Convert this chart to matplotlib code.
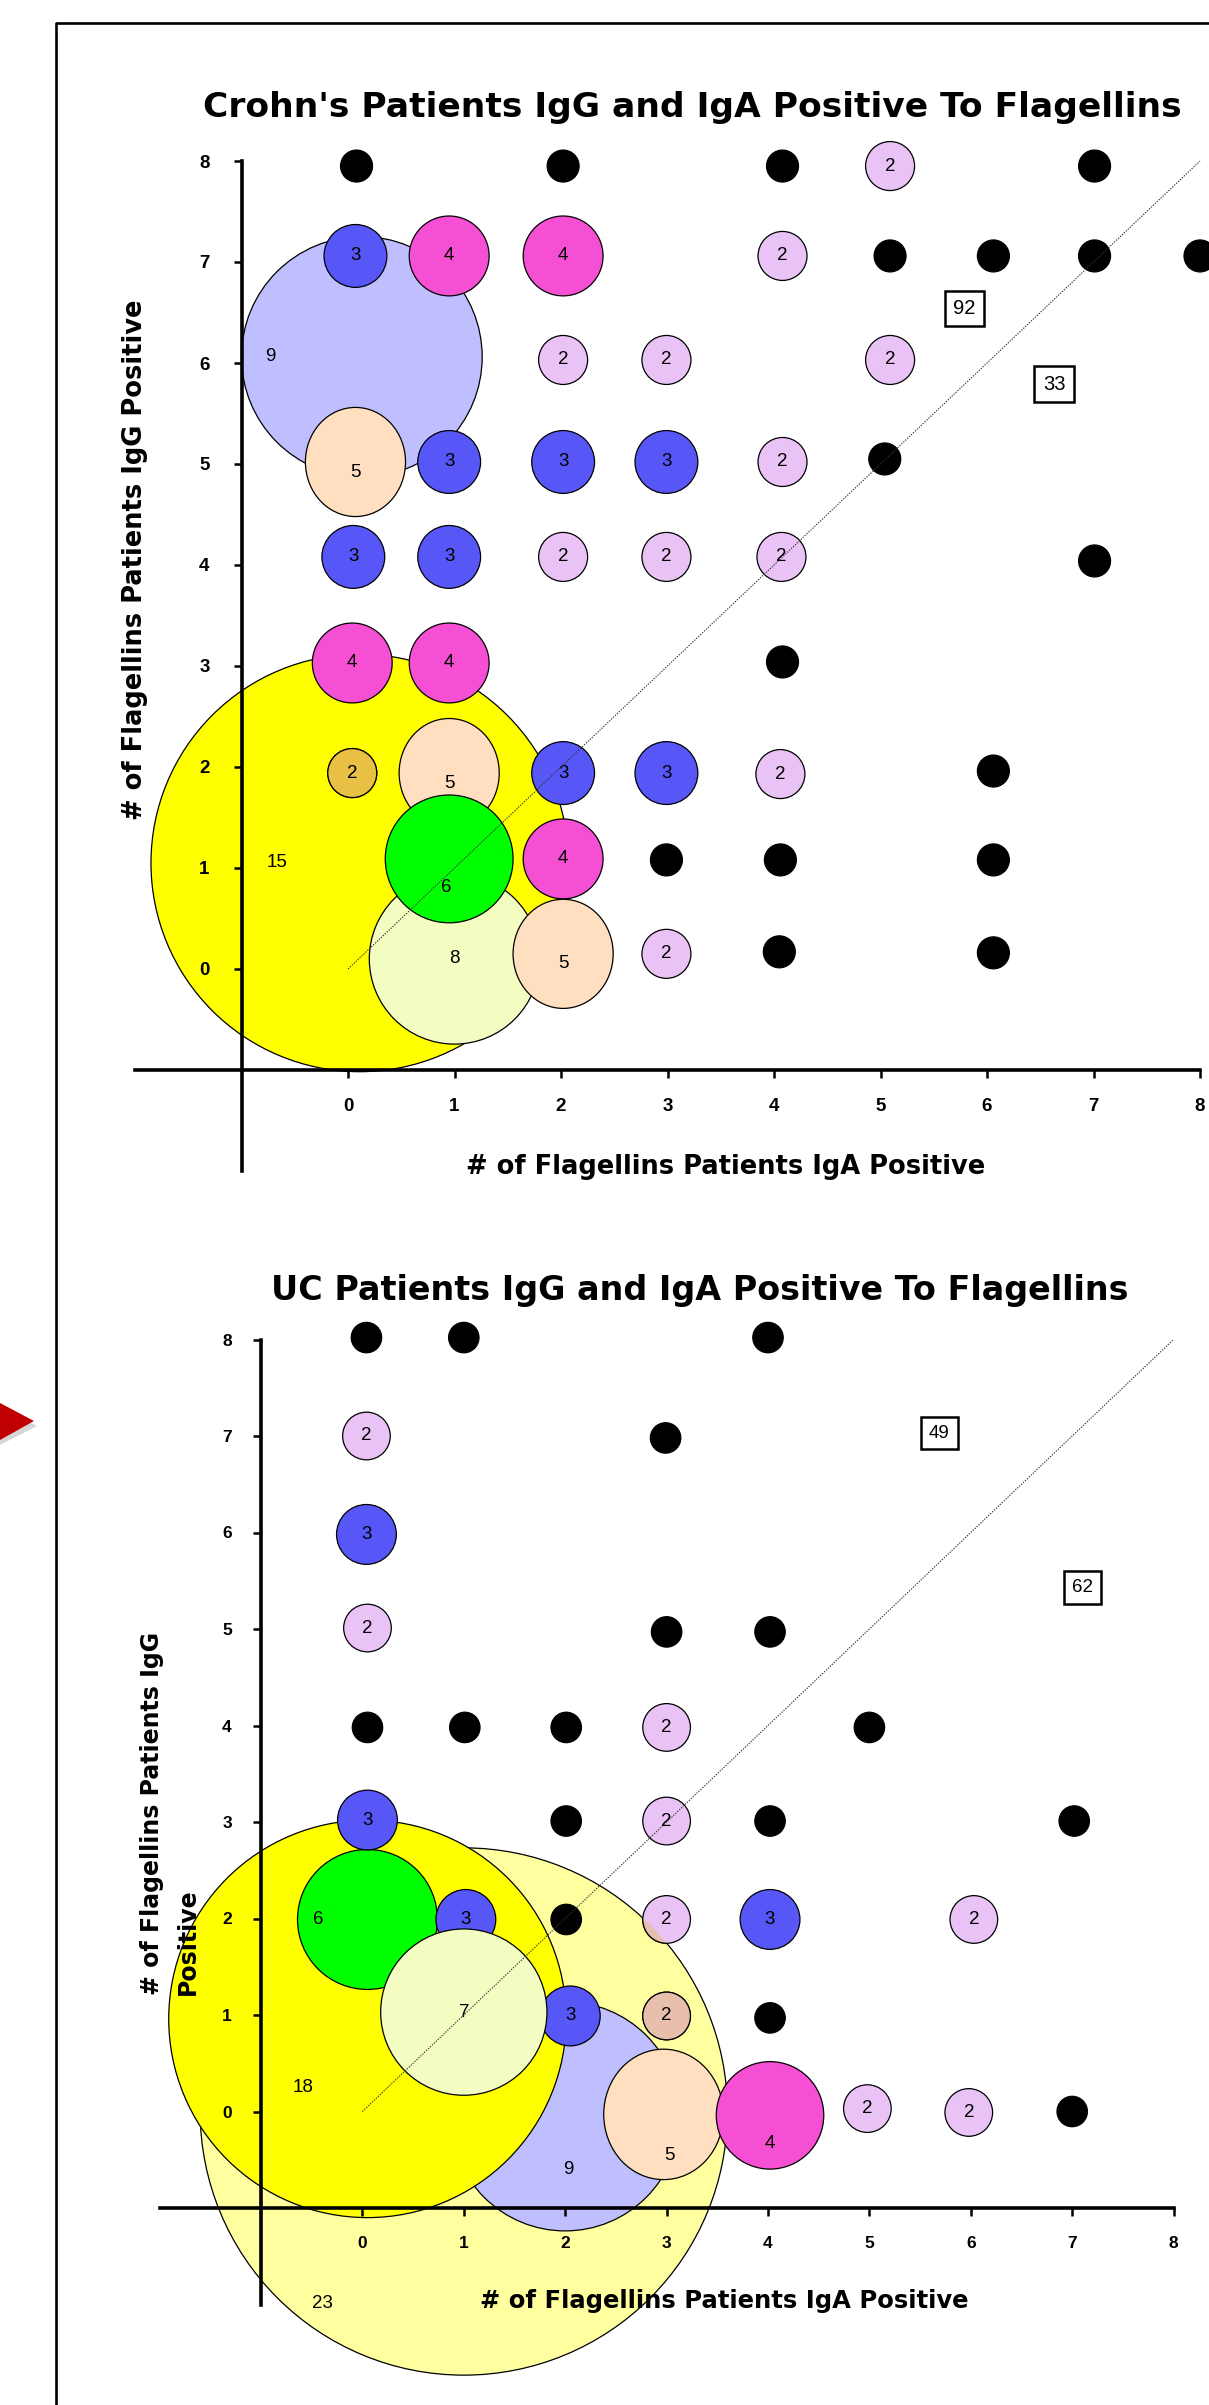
import matplotlib
matplotlib.use("Agg")
import matplotlib.pyplot as plt
from matplotlib.patches import Ellipse, Polygon
from matplotlib.lines import Line2D

W, H, DPI = 1209, 2405, 100

# Crohn's patients: bubble centre = (# flagellins IgA positive, # flagellins IgG positive), n = patients
cd_x = [0.11, 0.13, 1.00, 0.07, 0.95, 2.02, 0.95,
        0.95, 2.02, 0.04, 0.95, 2.02,
        0.07, 0.95, 2.02, 2.99, 0.05, 0.95, 2.02, 2.99,
        5.09, 4.08, 2.02, 2.99, 5.09, 4.08, 2.02, 2.99, 4.07, 0.04, 4.06, 2.99,
        0.08, 2.02, 4.08, 7.01, 5.09, 6.06, 7.01, 8.00, 5.04, 7.01, 4.08, 6.06, 2.99, 4.06, 6.06, 4.05, 6.06]
cd_y = [1.05, 6.06, 0.10, 5.02, 1.94, 0.15, 1.09,
        7.06, 7.06, 3.03, 3.03, 1.09,
        7.06, 5.02, 5.02, 5.02, 4.08, 4.08, 1.94, 1.94,
        7.95, 7.06, 6.03, 6.03, 6.03, 5.02, 4.08, 4.08, 4.08, 1.94, 1.93, 0.15,
        7.95, 7.95, 7.95, 7.95, 7.06, 7.06, 7.06, 7.06, 5.05, 4.04, 3.04, 1.96, 1.08, 1.08, 1.08, 0.17, 0.16]
cd_n = [15, 9, 8, 5, 5, 5, 6,
        4, 4, 4, 4, 4,
        3, 3, 3, 3, 3, 3, 3, 3,
        2, 2, 2, 2, 2, 2, 2, 2, 2, 2, 2, 2,
        1, 1, 1, 1, 1, 1, 1, 1, 1, 1, 1, 1, 1, 1, 1, 1, 1]
cd_box_x = [5.79, 6.63]
cd_box_y = [6.54, 5.79]
cd_box_txt = ["92", "33"]

# UC patients
uc_x = [1.00, 2.00, 0.05, 2.97, 4.02, 0.05,
        0.04, 0.05, 1.02, 4.02, 2.05,
        1.00,
        0.04, 0.05, 3.00, 3.00, 3.00, 6.03, 3.00, 4.98, 5.98,
        0.04, 1.00, 4.00, 2.99, 3.00, 4.02, 0.05, 1.01, 2.01, 5.00, 2.01, 4.02, 7.02, 2.01, 4.02, 7.00]
uc_y = [0.00, -0.05, 0.96, -0.03, -0.04, 1.99,
        5.98, 3.02, 1.99, 1.99, 0.99,
        1.03,
        7.00, 5.01, 3.98, 3.01, 1.99, 1.99, 0.99, 0.03, -0.01,
        8.02, 8.02, 8.02, 6.98, 4.97, 4.97, 3.98, 3.98, 3.98, 3.98, 3.01, 3.01, 3.01, 1.99, 0.97, 0.00]
uc_n = [23, 9, 18, 5, 4, 6,
        3, 3, 3, 3, 3,
        7,
        2, 2, 2, 2, 2, 2, 2, 2, 2,
        1, 1, 1, 1, 1, 1, 1, 1, 1, 1, 1, 1, 1, 1, 1, 1]
uc_box_x = [5.69, 7.10]
uc_box_y = [7.03, 5.43]
uc_box_txt = ["49", "62"]

ticks = [0, 1, 2, 3, 4, 5, 6, 7, 8]
diag = [0, 8]

# styles
colors = {1: "black", 2: "#E9C3F6", 3: "#5757F7", 4: "#F54FD4", 5: "#FFDFBF",
          6: "#00FF00", 7: "#F3FDC2", 8: "#F3FDC2", 9: "#BFBFFF",
          15: "#FFFF00", 18: "#FFFF00", 23: "#FFFFA0"}
cd_radius = {1: 0.15, 2: 0.23, 3: 0.295, 4: 0.375, 5: 0.47, 6: 0.6, 8: 0.8, 9: 1.13, 15: 1.96}
uc_radius = {1: 0.15, 2: 0.235, 3: 0.295, 4: 0.53, 5: 0.59, 6: 0.69, 7: 0.82, 9: 1.13, 18: 1.96, 23: 2.6}
tall = {5: 1.09}
cd_shift = {5: (0, -0.1), 6: (-0.03, -0.28), 9: (-0.86, 0), 15: (-0.78, 0)}
uc_shift = {4: (0, -0.29), 5: (0.06, -0.43), 6: (-0.49, 0), 9: (0.03, -0.55),
            18: (-0.64, -0.71), 23: (-1.39, -1.99)}
cd_tint = {15: "#E8C144"}
uc_tint = {23: "#E7BFAC"}

fig = plt.figure(figsize=(W / DPI, H / DPI), dpi=DPI)


def fxy(px, py):
    return px / W, 1 - py / H


def rect(left, top, width, height):
    return [left / W, 1 - (top + height) / H, width / W, height / H]


def draw_chart(r, ylim, xs, ys, ns, radius, shift, tint, bx, by, btxt, box_fs, tick_fs, ypad, xpad):
    ax = fig.add_axes(r)
    ax.set_xlim(-2.5, 8.5)
    ax.set_ylim(*ylim)
    ax.patch.set_visible(False)
    ax.set_axisbelow(False)
    ppx = r[2] * W / 11
    ppy = r[3] * H / (ylim[1] - ylim[0])

    big = {}
    lilac = []
    for x, y, n in zip(xs, ys, ns):
        rad = radius[n]
        hgt = 2 * rad * ppx / ppy * tall.get(n, 1)
        e = Ellipse((x, y), 2 * rad, hgt, fc=colors[n], ec="black", lw=0.9, zorder=2)
        ax.add_patch(e)
        if n in tint:
            big[n] = e
        if n == 2:
            lilac.append((x, y, 2 * rad, hgt))
        if n > 1:
            dx, dy = shift.get(n, (0, 0))
            ax.text(x + dx, y + dy, str(n), ha="center", va="center", fontsize=13.5,
                    family="Liberation Sans", zorder=3)

    # lilac bubbles seen through the big translucent bubble
    for n, patch in big.items():
        for x, y, w, h in lilac:
            o = Ellipse((x, y), w, h, fc=tint[n], ec="black", lw=0.9, zorder=2.2)
            ax.add_patch(o)
            o.set_clip_path(patch)

    ax.plot(diag, diag, color="0.2", lw=0.8, ls=(0, (1.2, 1.2)), zorder=4)

    for x, y, t in zip(bx, by, btxt):
        ax.text(x, y, t, ha="center", va="center", fontsize=box_fs, family="Liberation Sans",
                zorder=5, bbox=dict(boxstyle="square,pad=0.42", fc="white", ec="black", lw=1.8))

    for s in ["top", "right"]:
        ax.spines[s].set_visible(False)
    ax.spines["left"].set_position(("data", -1))
    ax.spines["left"].set_bounds(-2, 8)
    ax.spines["bottom"].set_position(("data", -1))
    ax.spines["bottom"].set_bounds(-2, 8)
    for s in ["left", "bottom"]:
        ax.spines[s].set_linewidth(2.6)
        ax.spines[s].set_zorder(3.5)
    ax.tick_params(direction="out", length=6, width=1.8, labelsize=tick_fs)
    ax.tick_params(axis="y", pad=ypad)
    ax.tick_params(axis="x", pad=xpad)
    lab_kw = dict(fontsize=tick_fs, fontweight="bold", family="Liberation Sans")
    ax.set_xticks(ticks, labels=[str(t) for t in ticks], **lab_kw)
    ax.set_yticks(ticks, labels=[str(t) for t in ticks], **lab_kw)
    return ax


# Crohn's chart
draw_chart(rect(81.75, 110.5, 1171.5, 1111), (-2.5, 8.5), cd_x, cd_y, cd_n, cd_radius, cd_shift,
           cd_tint, cd_box_x, cd_box_y, cd_box_txt, 14.5, 13.5, 17, 14.5)
fig.text(*fxy(692.5, 117), "Crohn's Patients IgG and IgA Positive To Flagellins", ha="center",
         va="baseline", fontsize=24.8, fontweight="bold", family="DejaVu Sans")
fig.text(*fxy(726, 1174), "# of Flagellins Patients IgA Positive", ha="center", va="baseline",
         fontsize=18.5, fontweight="bold", family="DejaVu Sans")
fig.text(*fxy(135, 560), "# of Flagellins Patients IgG Positive", ha="center", va="center",
         rotation=90, fontsize=18.5, fontweight="bold", family="DejaVu Sans")

# UC chart
draw_chart(rect(108.9, 1291.25, 1115.4, 1109.75), (-3, 8.5), uc_x, uc_y, uc_n, uc_radius, uc_shift,
           uc_tint, uc_box_x, uc_box_y, uc_box_txt, 13.5, 12.5, 15, 14)
fig.text(*fxy(699.6, 1300), "UC Patients IgG and IgA Positive To Flagellins", ha="center",
         va="baseline", fontsize=24, fontweight="bold", family="DejaVu Sans")
fig.text(*fxy(724, 2308), "# of Flagellins Patients IgA Positive", ha="center", va="baseline",
         fontsize=17.5, fontweight="bold", family="DejaVu Sans")
fig.text(*fxy(170, 1995), "# of Flagellins Patients IgG\nPositive", ha="center", va="bottom",
         rotation=90, multialignment="left", linespacing=1.6, fontsize=17, fontweight="bold",
         family="DejaVu Sans")

# page frame and the red pointer on the left edge
fig.add_artist(Line2D([56 / W, 56 / W, 1], [0, 1 - 23 / H, 1 - 23 / H], transform=fig.transFigure,
                      color="black", lw=1.9))
fig.add_artist(Polygon([fxy(0, 1407), fxy(37, 1426), fxy(0, 1445)], closed=True,
                       transform=fig.transFigure, fc="0.55", ec="none", alpha=0.35))
fig.add_artist(Polygon([fxy(0, 1403), fxy(34, 1421), fxy(0, 1440)], closed=True,
                       transform=fig.transFigure, fc="#C00000", ec="none"))

fig.savefig("out.png", dpi=DPI)
